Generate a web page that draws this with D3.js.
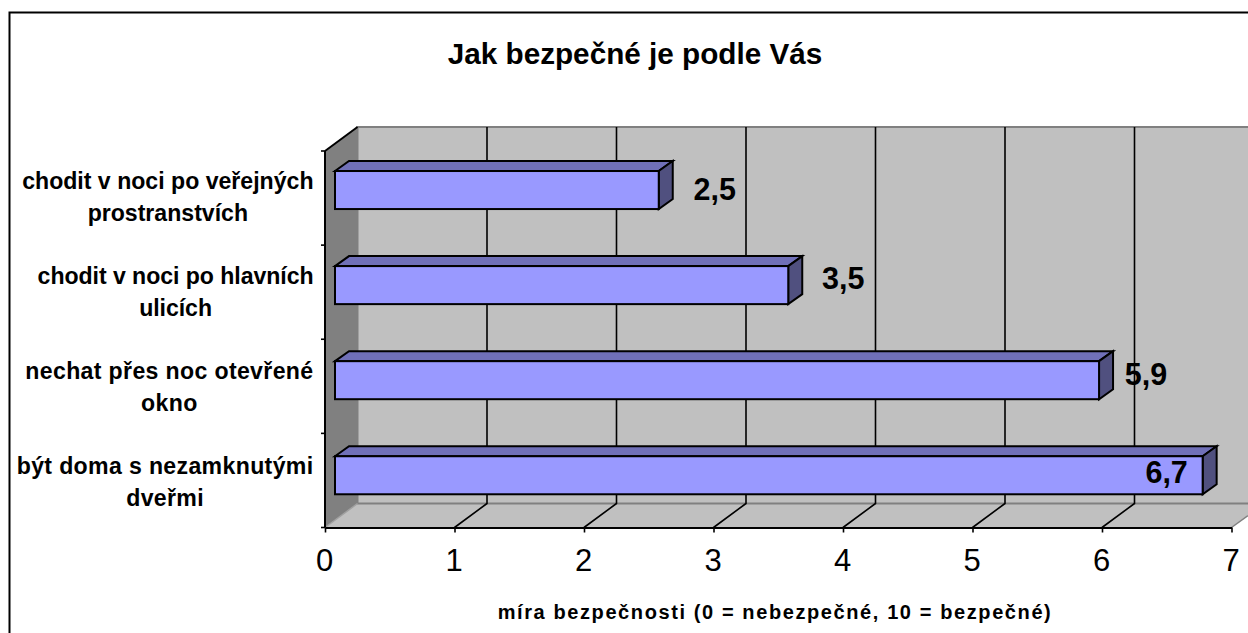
<!DOCTYPE html>
<html><head><meta charset="utf-8">
<script src="https://cdn.jsdelivr.net/npm/d3@7"></script>
<style>
html,body{margin:0;padding:0;background:#fff;overflow:hidden}
svg{display:block}
text{font-family:"Liberation Sans",Arial,sans-serif;fill:#000}
</style></head><body>
<svg id="c" width="1248" height="633"></svg>
<script>
const title = "Jak bezpečné je podle Vás";
const axisTitle = "míra bezpečnosti (0 = nebezpečné, 10 = bezpečné)";
const categories = ["chodit v noci po veřejných prostranstvích","chodit v noci po hlavních ulicích","nechat přes noc otevřené okno","být doma s nezamknutými dveřmi"];
const categoryLines = [["chodit v noci po veřejných","prostranstvích"],["chodit v noci po hlavních","ulicích"],["nechat přes noc otevřené","okno"],["být doma s nezamknutými","dveřmi"]];
const values = [2.5,3.5,5.9,6.7];
const valueLabels = ["2,5","3,5","5,9","6,7"];
const xTicks = [0,1,2,3,4,5,6,7];
// layout
const labelDx = [56,55,47,-36];
const labelDy = [-1.5,-7.5,-6.5,-3.5];
const catSpacing = [0,-0.05,0.35,0.35];
const M = {x0:325,x1:1231.5,top:151,bottom:527.5,dx:32.5,dy:24};
const barInset = 10, barDx = 14, barDy = 10;

const svg = d3.select("#c");
const x = d3.scaleLinear().domain([0,7]).range([M.x0,M.x1]);
const y = d3.scaleBand().domain(categories).range([M.top,M.bottom]).paddingInner(0.6).paddingOuter(0.28).align(0.376);
const tickStep = (M.bottom-M.top)/categories.length;
const path = pts => d3.line()(pts);

// frame
svg.append("path").attr("d",path([[9.5,633],[9.5,12.5],[1248,12.5]])).attr("fill","none").attr("stroke","#000").attr("stroke-width",2);

const bx = M.x0+M.dx, wallTop = M.top-M.dy, wallBot = M.bottom-M.dy;
// back wall
svg.append("rect").attr("x",bx).attr("y",wallTop).attr("width",1248-bx).attr("height",wallBot-wallTop).attr("fill","#c0c0c0");
// floor
svg.append("path").attr("d",path([[M.x0,M.bottom],[bx,wallBot],[1248,wallBot],[1248,M.bottom-12],[x(7),M.bottom]])).attr("fill","#c0c0c0");
// side wall
svg.append("path").attr("d",path([[M.x0,M.top],[bx,wallTop],[bx,wallBot],[M.x0,M.bottom]])).attr("fill","#808080");
// gray edges
svg.append("path").attr("d",path([[1248,wallTop],[bx,wallTop],[bx,wallBot],[1248,wallBot]])).attr("fill","none").attr("stroke","#808080").attr("stroke-width",2);
svg.append("path").attr("d",path([[M.x0,M.bottom],[bx,wallBot]])).attr("fill","none").attr("stroke","#a0a0a0").attr("stroke-width",1.5);
svg.append("path").attr("d",path([[x(7),M.bottom],[1248,M.bottom-12]])).attr("fill","none").attr("stroke","#808080").attr("stroke-width",1.5);
svg.append("path").attr("d",path([[M.x0,M.top],[bx,wallTop]])).attr("fill","none").attr("stroke","#000").attr("stroke-width",2);

// gridlines
svg.append("g").selectAll("path").data(xTicks.slice(1,7)).join("path")
  .attr("d",d=>path([[x(d)+M.dx,wallTop],[x(d)+M.dx,wallBot],[x(d),M.bottom]]))
  .attr("fill","none").attr("stroke","#000").attr("stroke-width",1.6);

// axes
const xAxis = d3.axisBottom(x).tickValues(xTicks).tickSize(5).tickSizeOuter(0).tickPadding(16).tickFormat(d3.format("d"));
const gx = svg.append("g").attr("transform",`translate(0,${M.bottom})`).call(xAxis);
gx.select(".domain").attr("stroke","#000").attr("stroke-width",2);
gx.selectAll(".tick line").attr("stroke","#000").attr("stroke-width",1.6);
gx.selectAll("text").attr("font-size",31).attr("font-family","Liberation Sans").attr("fill","#000").attr("dx",-1);

const catTicks = d3.range(categories.length+1).map(i=>M.top+i*tickStep);
svg.append("path").attr("d",path([[M.x0,M.top],[M.x0,M.bottom]])).attr("stroke","#000").attr("stroke-width",2).attr("fill","none");
svg.append("g").selectAll("line").data(catTicks).join("line")
  .attr("x1",M.x0-4).attr("x2",M.x0).attr("y1",d=>d).attr("y2",d=>d).attr("stroke","#000").attr("stroke-width",1.6);

// bars
const bars = svg.append("g").selectAll("g").data(categories).join("g");
const stroke = s => s.attr("stroke","#000").attr("stroke-width",2).attr("stroke-linejoin","miter");
const x0b = M.x0+barInset, unit = x(1)-x(0);
const bxR = i => x0b+values[i]*unit;
bars.append("path").attr("d",(c,i)=>{const t=y(c);return path([[x0b,t],[x0b+barDx,t-barDy],[bxR(i)+barDx,t-barDy],[bxR(i),t]])+"Z"}).attr("fill","#7070b8").call(stroke);
bars.append("path").attr("d",(c,i)=>{const t=y(c),b=t+y.bandwidth();return path([[bxR(i),t],[bxR(i)+barDx,t-barDy],[bxR(i)+barDx,b-barDy],[bxR(i),b]])+"Z"}).attr("fill","#50507f").call(stroke);
bars.append("rect").attr("x",x0b).attr("y",c=>y(c)).attr("width",(c,i)=>values[i]*unit).attr("height",y.bandwidth()).attr("fill","#9999ff").call(stroke);

// value labels
bars.append("text").attr("x",(c,i)=>bxR(i)+labelDx[i]).attr("y",(c,i)=>y(c)+y.bandwidth()/2+labelDy[i])
  .attr("dy","0.36em").attr("text-anchor","middle").attr("font-size",30.5).attr("font-weight","bold").text((c,i)=>valueLabels[i]);

// category labels
const rightEdge = 313.5;
const cg = svg.append("g").selectAll("g").data(categoryLines).join("g");
cg.each(function(lines,i){
  const g=d3.select(this), base=y(categories[i])+y.bandwidth()/2-1.5;
  const t=lines.map((l,j)=>g.append("text").attr("y",base+j*32.5).attr("font-size",23.1).attr("font-weight","bold").attr("letter-spacing",catSpacing[i]+"px").attr("text-anchor","middle").text(l));
  const w=t[0].node().getComputedTextLength();
  t.forEach(s=>s.attr("x",rightEdge-w/2));
});

// titles
svg.append("text").attr("x",635).attr("y",64).attr("text-anchor","middle").attr("font-size",29.7).attr("font-weight","bold").text(title);
svg.append("text").attr("x",775).attr("y",619).attr("text-anchor","middle").attr("font-size",20).attr("font-weight","bold").attr("letter-spacing","1.6px").text(axisTitle);
</script>
</body></html>
